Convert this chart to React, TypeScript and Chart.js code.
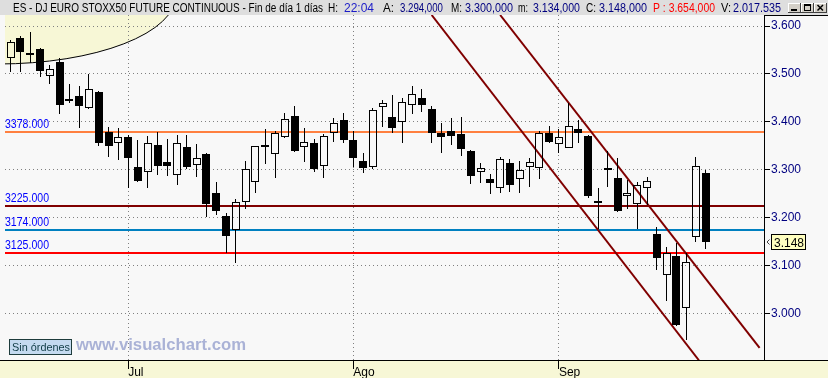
import React, { useEffect, useRef } from 'react';
import { Chart, registerables } from 'chart.js';

Chart.register(...registerables);

// ---- data (daily OHLC, ES - DJ EURO STOXX50 FUTURE CONTINUOUS) ----
const opens = [
  3533, 3576, 3543, 3553, 3496, 3524, 3448, 3453, 3428, 3463,
  3378, 3355, 3368, 3305, 3295, 3352, 3315, 3289, 3347, 3310,
  3333, 3251, 3203, 3174, 3232, 3275, 3351, 3332, 3368, 3412,
  3347, 3355, 3308, 3376, 3404, 3362, 3318, 3306, 3430, 3409,
  3399, 3434, 3449, 3427, 3376, 3381, 3375, 3339, 3295, 3281,
  3261, 3313, 3280, 3305, 3303, 3377, 3353, 3346, 3385, 3370,
  3235, 3303, 3282, 3245, 3228, 3261, 3165, 3081, 3120, 3011,
  3159, 3294,
];
const highs = [
  3571, 3579, 3587, 3555, 3519, 3533, 3479, 3475, 3500, 3464,
  3390, 3386, 3372, 3362, 3370, 3378, 3364, 3372, 3372, 3354,
  3334, 3274, 3209, 3239, 3319, 3350, 3384, 3381, 3419, 3433,
  3386, 3363, 3375, 3407, 3419, 3381, 3334, 3428, 3446, 3456,
  3450, 3475, 3468, 3432, 3398, 3407, 3409, 3341, 3313, 3291,
  3326, 3322, 3318, 3324, 3381, 3391, 3384, 3440, 3404, 3372,
  3261, 3338, 3324, 3278, 3275, 3285, 3181, 3138, 3146, 3125,
  3326, 3300,
];
const lows = [
  3505, 3505, 3522, 3493, 3479, 3416, 3439, 3386, 3426, 3349,
  3326, 3320, 3261, 3275, 3261, 3289, 3287, 3269, 3301, 3285,
  3202, 3205, 3125, 3106, 3217, 3251, 3312, 3283, 3366, 3336,
  3317, 3296, 3282, 3358, 3355, 3306, 3292, 3301, 3390, 3377,
  3356, 3416, 3421, 3355, 3335, 3352, 3329, 3270, 3273, 3249,
  3252, 3254, 3251, 3264, 3280, 3355, 3335, 3345, 3356, 3240,
  3176, 3264, 3212, 3217, 3176, 3226, 3091, 3026, 2974, 2944,
  3148, 3134,
];
const closes = [
  3567, 3545, 3539, 3507, 3510, 3434, 3444, 3432, 3468, 3356,
  3350, 3369, 3324, 3277, 3355, 3308, 3308, 3355, 3305, 3324,
  3228, 3214, 3161, 3232, 3301, 3349, 3347, 3376, 3405, 3338,
  3357, 3301, 3370, 3397, 3361, 3325, 3303, 3425, 3439, 3388,
  3441, 3459, 3434, 3377, 3369, 3371, 3344, 3287, 3303, 3273,
  3322, 3269, 3299, 3315, 3376, 3358, 3368, 3391, 3376, 3246,
  3231, 3299, 3214, 3251, 3269, 3277, 3115, 3125, 2976, 3107,
  3308, 3148,
];

const monthTickIndex = [12, 35, 56];
const monthLabels = ['Jul', 'Ago', 'Sep'];

const priceTicks = [3000, 3100, 3200, 3300, 3400, 3500, 3600];
const priceTickLabels = ['3.000', '3.100', '3.200', '3.300', '3.400', '3.500', '3.600'];

const levelValues = [3378, 3225, 3174, 3125];
const levelLabels = ['3378.000', '3225.000', '3174.000', '3125.000'];
const levelColors = ['#ff8040', '#800000', '#0080c0', '#ff0000'];

const trendA = [{ x: 43.0, y: 3623 }, { x: 70.3, y: 2902 }];
const trendB = [{ x: 50.0, y: 3623 }, { x: 76.5, y: 2928 }];

const lastPrice = 3148;
const lastPriceLabel = '3.148';

const headerTitle = 'ES - DJ EURO STOXX50 FUTURE CONTINUOUS - Fin de día 1 días';
const headerKeys = ['H:', 'A:', 'M:', 'm:', 'C:', 'V:'];
const headerVals = ['22:04', '3.294,000', '3.300,000', '3.134,000', '3.148,000', '2.017.535'];
const headerPrev = 'P : 3.654,000';

const xMin = -0.58;
const xMax = 76.95;
const yMin = 2902.5;
const yMax = 3623;

// ---- styles ----
const W = 828;
const H = 378;
const PLOT_BG = '#f8f8f8';
const CREAM = '#f7f7d6';
const HEADER_BG = '#dedede';
const FONT = 'Liberation Sans';

const isUp = (i: number) => closes[i] >= opens[i];

const snapPlugin = {
  id: 'snap',
  afterDatasetsUpdate(chart: any) {
    chart.data.datasets.forEach((ds: any, di: number) => {
      const meta = chart.getDatasetMeta(di);
      if (meta.type === 'bar') {
        meta.data.forEach((el: any) => {
          const w = Math.max(1, Math.round(el.width));
          el.width = w;
          el.x = w % 2 ? Math.floor(el.x) + 0.5 : Math.round(el.x);
          el.y = Math.round(el.y);
          el.base = Math.round(el.base);
        });
      } else if (ds.snapY) {
        meta.data.forEach((el: any) => {
          el.y = Math.round(el.y);
        });
      }
    });
  },
};

const chromePlugin = {
  id: 'chrome',
  beforeDraw(chart: any) {
    const { ctx, chartArea: ca } = chart;
    ctx.save();
    ctx.fillStyle = PLOT_BG;
    ctx.fillRect(0, 0, W, H);
    // yellow ellipse panel top-left
    ctx.save();
    ctx.beginPath();
    ctx.rect(ca.left, ca.top, ca.right - ca.left, ca.bottom - ca.top);
    ctx.clip();
    ctx.beginPath();
    ctx.ellipse(-2, -5, 178, 69, 0, 0, Math.PI * 2);
    ctx.fillStyle = CREAM;
    ctx.fill();
    ctx.lineWidth = 1;
    ctx.strokeStyle = '#000';
    ctx.stroke();
    ctx.restore();
    // bottom strip
    ctx.fillStyle = CREAM;
    ctx.fillRect(0, ca.bottom, W, H - ca.bottom);
    ctx.fillStyle = '#000';
    ctx.fillRect(0, ca.bottom, W, 1);
    ctx.fillRect(ca.right, ca.top, W - ca.right, 1);
    ctx.restore();
  },
  afterDatasetsDraw(chart: any) {
    const { ctx, scales, chartArea: ca } = chart;
    ctx.save();
    ctx.font = `12px "${FONT}"`;
    ctx.textAlign = 'left';
    ctx.textBaseline = 'alphabetic';
    ctx.fillStyle = '#0000ff';
    levelValues.forEach((v, i) => {
      const y = Math.round(scales.y.getPixelForValue(v));
      ctx.fillText(levelLabels[i], ca.left, y - 4, 44);
    });
    ctx.restore();
  },
  afterDraw(chart: any) {
    const { ctx, scales, chartArea: ca } = chart;
    ctx.save();
    // header
    ctx.fillStyle = HEADER_BG;
    ctx.fillRect(0, 0, W, ca.top);
    ctx.font = `12px "${FONT}"`;
    ctx.textBaseline = 'alphabetic';
    ctx.textAlign = 'left';
    const by = 12;
    ctx.fillStyle = '#000';
    ctx.fillText(headerTitle, 13, by, 310);
    const keyX = [328, 383, 451, 518, 586, 721];
    const keyW = [10, 11, 11, 10, 10, 10];
    const valX = [344, 400, 465, 533, 599, 733];
    const valW = [33, 43, 48, 47, 48, 48];
    headerKeys.forEach((k, i) => {
      ctx.fillStyle = '#000';
      ctx.fillText(k, keyX[i], by, keyW[i]);
      ctx.fillStyle = i === 0 ? '#1c1cc8' : '#000080';
      ctx.fillText(headerVals[i], valX[i], by, valW[i]);
    });
    ctx.fillStyle = '#ff0000';
    ctx.fillText(headerPrev, 653, by, 62);
    // window buttons
    const bx = [788, 801, 814];
    bx.forEach((x, i) => {
      ctx.fillStyle = '#d4d0c8';
      ctx.fillRect(x, 3, 13, 10);
      ctx.fillStyle = '#ffffff';
      ctx.fillRect(x, 3, 13, 1);
      ctx.fillRect(x, 3, 1, 10);
      ctx.fillStyle = '#404040';
      ctx.fillRect(x, 12, 13, 1);
      ctx.fillRect(x + 12, 3, 1, 10);
      ctx.fillStyle = '#000';
      if (i === 0) ctx.fillRect(x + 3, 9, 6, 2);
      if (i === 1) {
        ctx.fillRect(x + 3, 4, 7, 2);
        ctx.fillRect(x + 3, 4, 1, 7);
        ctx.fillRect(x + 9, 4, 1, 7);
        ctx.fillRect(x + 3, 10, 7, 1);
      }
      if (i === 2) {
        ctx.strokeStyle = '#000';
        ctx.lineWidth = 1.5;
        ctx.beginPath();
        ctx.moveTo(x + 3.5, 5);
        ctx.lineTo(x + 9, 10.5);
        ctx.moveTo(x + 9, 5);
        ctx.lineTo(x + 3.5, 10.5);
        ctx.stroke();
      }
    });
    // watermark
    ctx.font = `bold 16.7px "${FONT}"`;
    ctx.fillStyle = '#aab2d6';
    ctx.fillText('www.visualchart.com', 76, 350, 170);
    // "Sin órdenes" box
    ctx.fillStyle = '#c4daf0';
    ctx.fillRect(9, 339, 63, 16);
    ctx.strokeStyle = '#1e3c3c';
    ctx.lineWidth = 1;
    ctx.strokeRect(9.5, 339.5, 62, 15);
    ctx.font = `11px "${FONT}"`;
    ctx.fillStyle = '#103c46';
    ctx.fillText('Sin órdenes', 12, 351, 58);
    // last price box
    const py = Math.round(scales.y.getPixelForValue(lastPrice));
    ctx.fillStyle = '#ffffc0';
    ctx.fillRect(771, py - 8, 35, 16);
    ctx.strokeStyle = '#000';
    ctx.strokeRect(771.5, py - 7.5, 34, 15);
    ctx.font = `12px "${FONT}"`;
    ctx.fillStyle = '#000';
    ctx.fillText(lastPriceLabel, 774, py + 5);
    ctx.strokeStyle = '#404040';
    ctx.lineWidth = 1;
    ctx.beginPath();
    ctx.moveTo(769.5, py - 2.5);
    ctx.lineTo(767, py);
    ctx.lineTo(769.5, py + 2.5);
    ctx.stroke();
    ctx.restore();
  },
};

export default function App() {
  const ref = useRef<HTMLCanvasElement>(null);

  useEffect(() => {
    document.body.style.margin = '0';
    const canvas = ref.current;
    if (!canvas) return;
    Chart.defaults.font.family = FONT;

    const bodyData = opens.map((o, i) => ({ x: i, y: [o, closes[i]] }));
    const upperWick = opens.map((o, i) => ({ x: i, y: [Math.max(o, closes[i]), highs[i]] }));
    const lowerWick = opens.map((o, i) => ({ x: i, y: [lows[i], Math.min(o, closes[i])] }));

    const levelSets = levelValues.map((v, i) => ({
      type: 'line',
      data: [{ x: xMin, y: v }, { x: xMax, y: v }],
      borderColor: levelColors[i],
      borderWidth: 2,
      pointRadius: 0,
      tension: 0,
      order: 4,
      snapY: true,
    }));

    const trendSets = [trendA, trendB].map((t) => ({
      type: 'line',
      data: t,
      borderColor: '#800000',
      borderWidth: 2,
      pointRadius: 0,
      tension: 0,
      order: 3,
    }));

    const chart = new Chart(canvas, {
      type: 'bar',
      data: {
        datasets: [
          ...levelSets,
          ...trendSets,
          {
            type: 'bar',
            data: upperWick,
            backgroundColor: '#000',
            borderWidth: 0,
            grouped: false,
            categoryPercentage: 1,
            barPercentage: 1 / 9.79,
            inflateAmount: 0,
            order: 2,
          },
          {
            type: 'bar',
            data: lowerWick,
            backgroundColor: '#000',
            borderWidth: 0,
            grouped: false,
            categoryPercentage: 1,
            barPercentage: 1 / 9.79,
            inflateAmount: 0,
            order: 2,
          },
          {
            type: 'bar',
            data: bodyData,
            backgroundColor: opens.map((_, i) => (isUp(i) ? 'rgba(0,0,0,0)' : '#000')),
            borderColor: '#000',
            borderWidth: 1,
            borderSkipped: false,
            grouped: false,
            categoryPercentage: 1,
            barPercentage: 8 / 9.79,
            inflateAmount: 0,
            minBarLength: 2,
            order: 1,
          },
        ] as any,
      },
      options: {
        responsive: false,
        devicePixelRatio: 1,
        animation: false,
        events: [],
        layout: { padding: { top: 15, left: 5, right: 0, bottom: 0 } },
        plugins: {
          legend: { display: false },
          tooltip: { enabled: false },
        },
        scales: {
          x: {
            type: 'linear',
            min: xMin,
            max: xMax,
            offset: false,
            bounds: 'data',
            afterBuildTicks: (s: any) => {
              s.ticks = monthTickIndex.map((v) => ({ value: v }));
            },
            afterFit: (s: any) => {
              s.height = 18;
            },
            ticks: {
              callback: (_v: any, i: number) => monthLabels[i],
              align: 'start',
              color: '#000',
              font: { family: FONT, size: 12 },
              padding: -4,
              autoSkip: false,
              maxRotation: 0,
            },
            grid: {
              display: true,
              drawOnChartArea: true,
              color: '#808080',
              lineWidth: 1,
              tickLength: 9,
              tickColor: '#000',
              offset: false,
            },
            border: { display: true, color: '#000', width: 1, dash: [1, 3] },
          },
          y: {
            type: 'linear',
            position: 'right',
            min: yMin,
            max: yMax,
            bounds: 'data',
            afterBuildTicks: (s: any) => {
              s.ticks = priceTicks.map((v) => ({ value: v }));
            },
            afterFit: (s: any) => {
              s.width = 64;
            },
            ticks: {
              callback: (_v: any, i: number) => priceTickLabels[i],
              color: '#000080',
              font: { family: FONT, size: 12 },
              padding: 1,
            },
            grid: {
              color: '#808080',
              lineWidth: 1,
              tickLength: 6,
              tickColor: '#000',
            },
            border: { display: true, color: '#000', width: 1, dash: [1, 3] },
          },
        },
      } as any,
      plugins: [snapPlugin, chromePlugin],
    });

    return () => chart.destroy();
  }, []);

  return (
    <div style={{ width: W, height: H }}>
      <canvas ref={ref} width={W} height={H} style={{ display: 'block' }} />
    </div>
  );
}
